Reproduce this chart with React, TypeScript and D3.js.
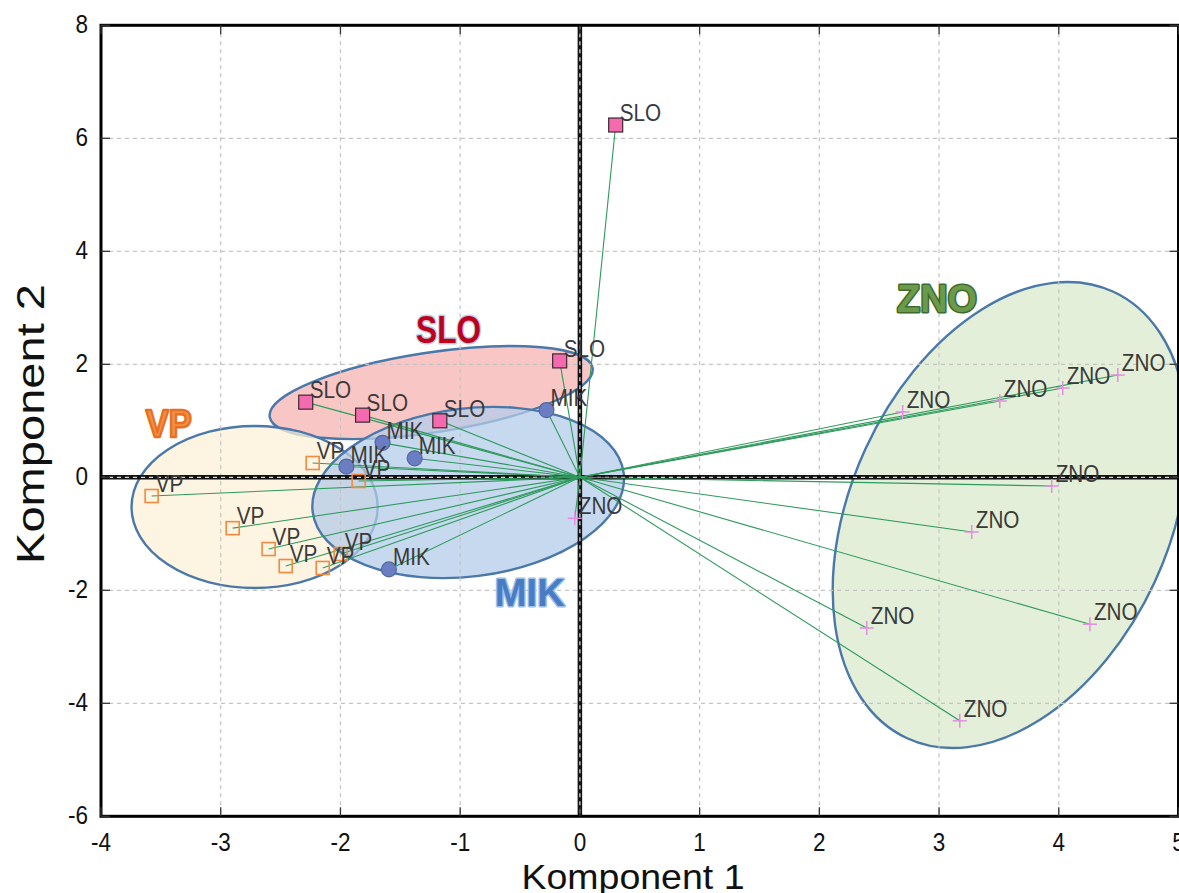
import React from 'react';
import * as d3 from 'd3';

const W = 1179;
const H = 893;

const xTicks = [-4, -3, -2, -1, 0, 1, 2, 3, 4, 5];
const yTicks = [-6, -4, -2, 0, 2, 4, 6, 8];

// group: SLO
const sloX = [0.299, -0.169, -2.29, -1.815, -1.17];
const sloY = [6.235, 2.06, 1.33, 1.1, 1.0];
// group: MIK
const mikX = [-0.279, -1.648, -1.38, -1.95, -1.595];
const mikY = [1.19, 0.61, 0.336, 0.19, -1.63];
// group: VP
const vpX = [-3.577, -2.9, -2.232, -1.848, -2.6, -2.457, -2.148, -1.998];
const vpY = [-0.331, -0.9, 0.253, -0.065, -1.27, -1.57, -1.605, -1.357];
// group: ZNO
const znoX = [-0.043, 2.696, 3.507, 4.033, 4.493, 3.941, 3.273, 2.396, 4.26, 3.173];
const znoY = [-0.726, 1.156, 1.35, 1.58, 1.81, -0.154, -0.968, -2.667, -2.6, -4.31];

// confidence ellipses (centre and semi-axes in data units, rotation in degrees)
const ellName = ['SLO', 'VP', 'MIK', 'ZNO'];
const ellCX = [-1.242, -2.717, -0.933, 3.595];
const ellCY = [1.5, -0.526, -0.269, -0.667];
const ellRX = [1.364, 1.028, 1.309, 2.054];
const ellRY = [0.708, 1.434, 1.487, 2.818];
const ellRot = [-8.6, 0, -7.1, -65.2];
const ellFill = ['#f7b3b3', '#fcf0d7', '#b3cce8', '#dae9cc'];

// big group titles
const grpName = ['SLO', 'VP', 'MIK', 'ZNO'];
const grpX = [-1.097, -3.434, -0.419, 2.983];
const grpY = [2.377, 0.713, -2.28, 2.929];
const grpW = [65, 46, 70, 80];
const grpFill = ['#c0001a', '#f29048', '#4a7cc4', '#6a9a4a'];
const grpStroke = ['#b8d2ee', '#e8701e', '#9cc0ea', '#3e6a2e'];
const grpStrokeOnTop = [false, true, false, false];

const FONT = '"Liberation Sans", Arial, sans-serif';

const x = d3.scaleLinear().domain([-4, 5]).range([101, 1178.5]);
const y = d3.scaleLinear().domain([-6, 8]).range([816.3, 25.3]);

const SX = 0.9;

function T(props: any) {
  const { x: tx, y: ty, anchor = 'start', size = 22, fill = '#333', sx = SX, children, weight, rotate, textLength, stroke, strokeWidth, strokeOnTop } = props;
  const tr = `translate(${tx},${ty})` + (rotate ? ` rotate(${rotate})` : '') + (textLength ? '' : ` scale(${sx},1)`);
  return (
    <text
      transform={tr}
      textAnchor={anchor}
      fontSize={size}
      fontFamily={FONT}
      fill={fill}
      fontWeight={weight}
      textLength={textLength}
      lengthAdjust={textLength ? 'spacingAndGlyphs' : undefined}
      stroke={stroke}
      strokeWidth={strokeWidth}
      paintOrder={strokeOnTop ? 'normal' : 'stroke'}
      strokeLinejoin="round"
    >
      {children}
    </text>
  );
}

export default function App() {
  const x0 = x(0);
  const y0 = y(0);
  const ux = x(1) - x(0);
  const uy = y(0) - y(1);

  const allPts: { px: number; py: number; g: string }[] = [];
  sloX.forEach((v, i) => allPts.push({ px: x(v), py: y(sloY[i]), g: 'SLO' }));
  mikX.forEach((v, i) => allPts.push({ px: x(v), py: y(mikY[i]), g: 'MIK' }));
  vpX.forEach((v, i) => allPts.push({ px: x(v), py: y(vpY[i]), g: 'VP' }));
  znoX.forEach((v, i) => allPts.push({ px: x(v), py: y(znoY[i]), g: 'ZNO' }));

  const left = x(-4), right = x(5), top = y(8), bottom = y(-6);

  return (
    <svg width={W} height={H} style={{ position: 'absolute', left: 0, top: 0, background: '#fff' }}>
      <rect x={0} y={0} width={W} height={H} fill="#fff" />
      {/* ellipses */}
      {ellName.map((n, i) => (
        <ellipse
          key={n}
          cx={0}
          cy={0}
          rx={ellRX[i] * ux}
          ry={ellRY[i] * uy}
          transform={`translate(${x(ellCX[i])},${y(ellCY[i])}) rotate(${ellRot[i]})`}
          fill={ellFill[i]}
          fillOpacity={0.75}
          stroke="#4a78a8"
          strokeWidth={2.4}
        />
      ))}
      {/* grid */}
      {xTicks.slice(1, -1).map((t) => (
        <line key={'gx' + t} x1={x(t)} x2={x(t)} y1={top} y2={bottom} stroke="#c4c4c4" strokeWidth={1.2} strokeDasharray="4,4" />
      ))}
      {yTicks.slice(1, -1).map((t) => (
        <line key={'gy' + t} x1={left} x2={right} y1={y(t)} y2={y(t)} stroke="#c4c4c4" strokeWidth={1.2} strokeDasharray="4,4" />
      ))}
      {/* zero lines */}
      <line x1={x0} x2={x0} y1={top} y2={bottom} stroke="#111" strokeWidth={4.5} />
      <line x1={left} x2={right} y1={y0} y2={y0} stroke="#111" strokeWidth={4.5} />
      <line x1={x0} x2={x0} y1={top} y2={bottom} stroke="#d8d8d8" strokeWidth={1.3} strokeDasharray="4,4" />
      <line x1={left} x2={right} y1={y0} y2={y0} stroke="#d8d8d8" strokeWidth={1.3} strokeDasharray="4,4" />
      {/* vectors */}
      {allPts.map((p, i) => (
        <line key={'v' + i} x1={x0} y1={y0} x2={p.px} y2={p.py} stroke="#2e9a5c" strokeWidth={1.1} />
      ))}
      {/* markers */}
      {allPts.map((p, i) => {
        if (p.g === 'SLO')
          return <rect key={'m' + i} x={p.px - 7} y={p.py - 7} width={14} height={14} fill="#f46aae" stroke="#3a2a30" strokeWidth={1.2} />;
        if (p.g === 'MIK')
          return <circle key={'m' + i} cx={p.px} cy={p.py} r={7.5} fill="#6b7ec4" stroke="#55679e" strokeWidth={1.2} />;
        if (p.g === 'VP')
          return <rect key={'m' + i} x={p.px - 6.5} y={p.py - 6.5} width={13} height={13} fill="none" stroke="#f08a40" strokeWidth={1.6} />;
        return (
          <g key={'m' + i} stroke="#e48de0" strokeWidth={1.5}>
            <line x1={p.px - 7} x2={p.px + 7} y1={p.py} y2={p.py} />
            <line x1={p.px} x2={p.px} y1={p.py - 7} y2={p.py + 7} />
          </g>
        );
      })}
      {/* point labels */}
      {allPts.map((p, i) => (
        <T key={'l' + i} x={p.px + 4} y={p.py - 4} size={23} fill="#3a3a3a">
          {p.g}
        </T>
      ))}
      {/* group titles */}
      {grpName.map((n, i) => (
        <T
          key={'g' + n}
          x={x(grpX[i])}
          y={y(grpY[i])}
          anchor="middle"
          size={38}
          weight="bold"
          fill={grpFill[i]}
          stroke={grpStroke[i]}
          strokeWidth={grpStrokeOnTop[i] ? 2.5 : 3}
          strokeOnTop={grpStrokeOnTop[i]}
          textLength={grpW[i]}
        >
          {n}
        </T>
      ))}
      {/* frame */}
      <rect x={left} y={top} width={right - left} height={bottom - top} fill="none" stroke="#000" strokeWidth={3} />
      {/* ticks */}
      {xTicks.map((t) => (
        <g key={'tx' + t} stroke="#333" strokeWidth={1.3}>
          <line x1={x(t)} x2={x(t)} y1={bottom} y2={bottom - 9} />
          <line x1={x(t)} x2={x(t)} y1={top} y2={top + 9} />
        </g>
      ))}
      {yTicks.map((t) => (
        <g key={'ty' + t} stroke="#333" strokeWidth={1.3}>
          <line x1={left} x2={left + 9} y1={y(t)} y2={y(t)} />
          <line x1={right} x2={right - 9} y1={y(t)} y2={y(t)} />
        </g>
      ))}
      {/* tick labels */}
      {xTicks.map((t) => (
        <T key={'xl' + t} x={x(t)} y={851} anchor="middle" size={25} fill="#111">
          {String(t)}
        </T>
      ))}
      {yTicks.map((t) => (
        <T key={'yl' + t} x={88} y={y(t) + 8} anchor="end" size={25} fill="#111">
          {String(t)}
        </T>
      ))}
      {/* axis titles */}
      <T x={633} y={889} anchor="middle" size={35} fill="#111" textLength={223}>
        Komponent 1
      </T>
      <T x={44} y={424} anchor="middle" size={38} fill="#111" rotate={-90} textLength={280}>
        Komponent 2
      </T>
    </svg>
  );
}
